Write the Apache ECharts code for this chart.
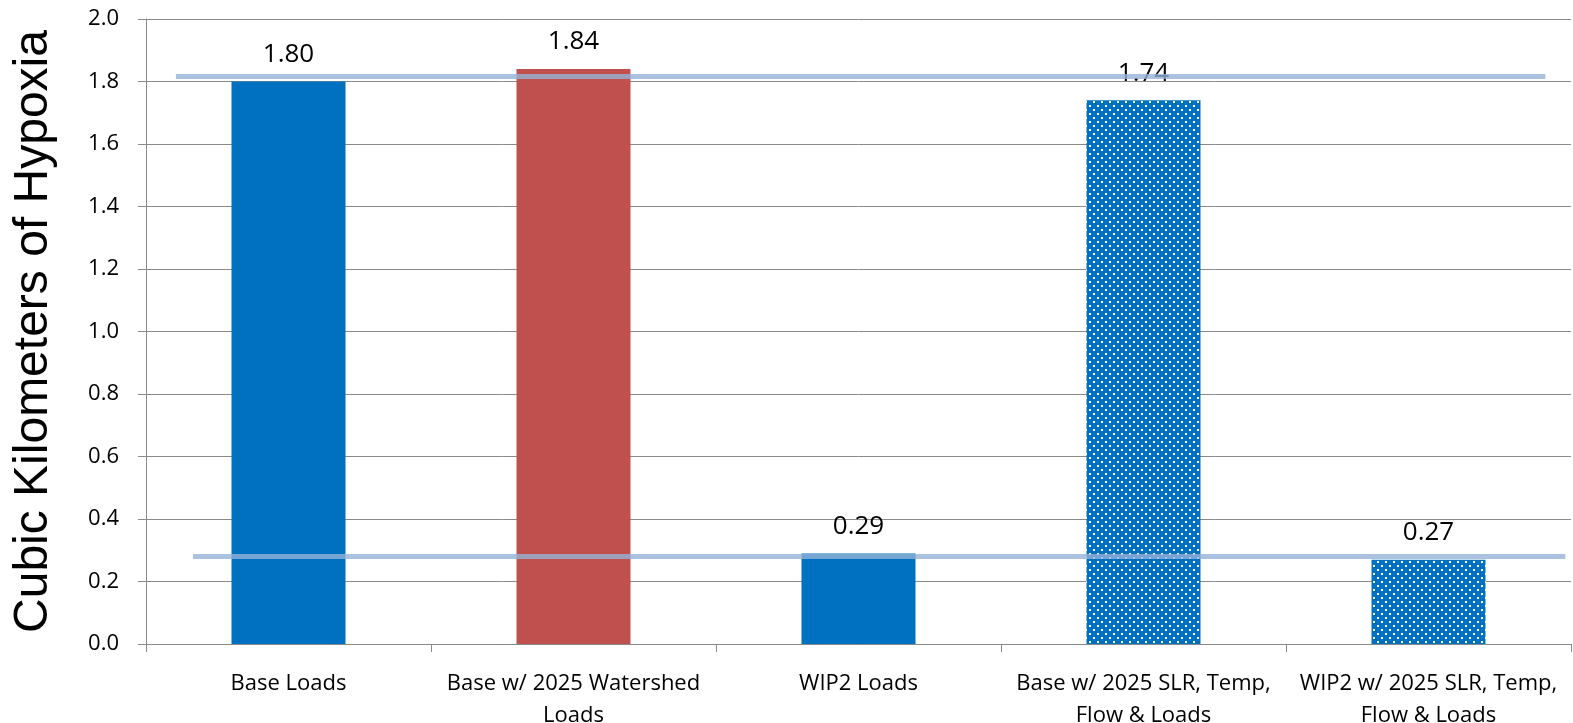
<!DOCTYPE html>
<html>
<head>
<meta charset="utf-8">
<script src="https://cdn.jsdelivr.net/npm/echarts@6/dist/echarts.min.js"></script>
<style>
html,body{margin:0;padding:0;background:#fff;}
#chart{width:1573px;height:723px;}
</style>
</head>
<body>
<div id="chart"></div>
<script>
// ---- data ----
const categories = ['Base Loads', 'Base w/ 2025 Watershed\nLoads', 'WIP2 Loads', 'Base w/ 2025 SLR, Temp,\nFlow & Loads', 'WIP2 w/ 2025 SLR, Temp,\nFlow & Loads'];
const values = [1.80, 1.84, 0.29, 1.74, 0.27];
const barKinds = ['solid', 'red', 'solid', 'dotted', 'dotted'];
const yTicks = [0, 0.2, 0.4, 0.6, 0.8, 1.0, 1.2, 1.4, 1.6, 1.8, 2.0];
const yTitle = 'Cubic Kilometers of Hypoxia';
// reference lines drawn over the chart: [xStart, xEnd] in category units, y value
const upperLineX = [0.105, 4.91];
const upperLineY = 1.816;
const lowerLineX = [0.165, 4.98];
const lowerLineY = 0.28;

// ---- pattern ----
function makeDotPattern(bg) {
  const c = document.createElement('canvas');
  c.width = 8; c.height = 8;
  const ctx = c.getContext('2d');
  ctx.fillStyle = bg; ctx.fillRect(0, 0, 8, 8);
  ctx.fillStyle = '#ffffff';
  ctx.fillRect(1, 1, 2, 2);
  ctx.fillRect(5, 5, 2, 2);
  return c;
}
const BLUE = '#0070C0';
const RED = '#C0504D';
const dotted = { image: makeDotPattern(BLUE), repeat: 'repeat' };

function barColor(kind) {
  if (kind === 'red') return RED;
  if (kind === 'dotted') return dotted;
  return BLUE;
}

const chart = echarts.init(document.getElementById('chart'), null, { renderer: 'canvas' });
const axisGray = '#8a8a8a';
const font = '"Open Sans", sans-serif';

chart.setOption({
  animation: false,
  grid: { left: 146, right: 2, top: 19, bottom: 79, containLabel: false, outerBoundsMode: 'none' },
  xAxis: [{
    type: 'category',
    data: categories,
    axisLine: { lineStyle: { color: axisGray, width: 1 } },
    axisTick: { show: true, length: 8, lineStyle: { color: axisGray } },
    axisLabel: { interval: 0, color: '#000', fontFamily: font, fontSize: 22, lineHeight: 32, margin: 24 },
    splitLine: { show: false }
  }, {
    type: 'value', min: 0, max: 5, show: false
  }],
  yAxis: {
    type: 'value',
    min: yTicks[0], max: yTicks[yTicks.length - 1], interval: 0.2,
    name: yTitle,
    nameLocation: 'middle',
    nameGap: 88,
    nameTextStyle: { fontFamily: '"Liberation Sans", Arial, sans-serif', fontSize: 48, color: '#000' },
    axisLine: { show: true, lineStyle: { color: axisGray, width: 1 } },
    axisTick: { show: true, inside: false, length: 8, lineStyle: { color: axisGray } },
    axisLabel: { color: '#000', fontFamily: font, fontSize: 22, margin: 27, formatter: v => v.toFixed(1) },
    splitLine: { show: true, lineStyle: { color: axisGray, width: 1 } }
  },
  series: [{
    type: 'bar',
    barWidth: '40%',
    data: values.map((v, i) => ({ value: v, itemStyle: { color: barColor(barKinds[i]) } })),
    label: {
      show: true, position: 'top', distance: 14,
      fontFamily: font, fontSize: 26, color: '#000',
      formatter: p => p.value.toFixed(2)
    },
    z: 2
  }, {
    type: 'line',
    xAxisIndex: 1,
    data: [[upperLineX[0], upperLineY], [upperLineX[1], upperLineY]],
    symbol: 'none',
    lineStyle: { color: '#95B3D7', width: 5, opacity: 0.8 },
    z: 5
  }, {
    type: 'line',
    xAxisIndex: 1,
    data: [[lowerLineX[0], lowerLineY], [lowerLineX[1], lowerLineY]],
    symbol: 'none',
    lineStyle: { color: '#95B3D7', width: 5, opacity: 0.8 },
    z: 5
  }]
});
</script>
</body>
</html>
